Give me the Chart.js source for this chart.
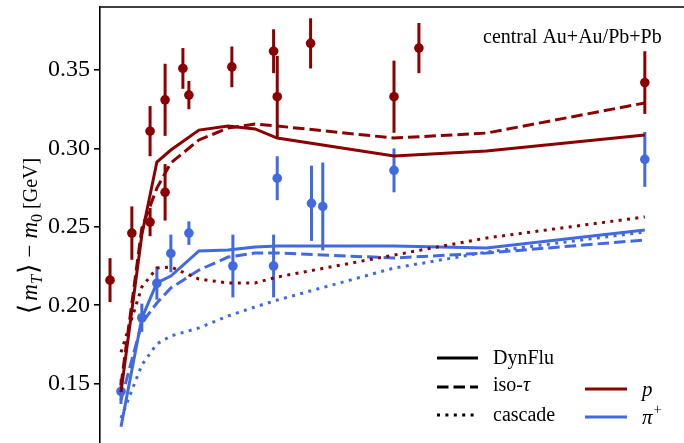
<!DOCTYPE html>
<html><head><meta charset="utf-8">
<script src="https://cdn.jsdelivr.net/npm/chart.js@4.4.0/dist/chart.umd.min.js"></script>
<style>html,body{margin:0;padding:0;background:#fff;overflow:hidden;width:684px;height:443px}canvas{display:block}</style>
</head><body><canvas id="c" width="760" height="480"></canvas>
<script>
// Collision energy sqrt(s_NN) [GeV] and measured <mT> - m0 [GeV] with errors
const energyP = [2.71, 3.23, 3.74, 3.74, 4.22, 4.22, 4.87, 5.11, 7.22, 10.1, 10.4, 13.6, 26.6, 32.5, 200];
const mtP     = [0.216, 0.246, 0.253, 0.311, 0.331, 0.272, 0.351, 0.334, 0.352, 0.362, 0.333, 0.367, 0.333, 0.364, 0.342];
const errP    = [0.014, 0.017, 0.009, 0.016, 0.023, 0.018, 0.013, 0.009, 0.013, 0.014, 0.026, 0.016, 0.023, 0.016, 0.020];

const energyPi = [2.96, 3.50, 3.95, 4.42, 5.11, 7.28, 10.1, 10.4, 13.7, 15.0, 26.6, 200];
const mtPi     = [0.145, 0.192, 0.214, 0.233, 0.246, 0.225, 0.225, 0.281, 0.265, 0.263, 0.286, 0.293];
const errPi    = [0.008, 0.009, 0.0105, 0.012, 0.0075, 0.020, 0.020, 0.014, 0.024, 0.028, 0.014, 0.0175];

// Model calculations
const energyModel = [2.96, 3.5, 3.95, 4.42, 5.54, 7.0, 8.7, 10.4, 26.6, 56, 200];
const pDynFlu   = [0.1446, 0.2448, 0.2913, 0.2990, 0.3117, 0.3143, 0.3124, 0.3066, 0.2951, 0.2983, 0.3085];
const pIsoTau   = [0.1491, 0.2492, 0.2747, 0.2907, 0.3054, 0.3130, 0.3156, 0.3143, 0.3066, 0.3098, 0.3290];
const pCascade  = [0.1700, 0.2116, 0.2237, 0.2244, 0.2167, 0.2142, 0.2142, 0.2180, 0.2320, 0.2429, 0.2563];
const piDynFlu  = [0.1225, 0.1918, 0.2142, 0.2186, 0.2346, 0.2352, 0.2371, 0.2378, 0.2378, 0.2365, 0.2480];
const piIsoTau  = [0.1395, 0.1886, 0.2014, 0.2110, 0.2224, 0.2307, 0.2333, 0.2333, 0.2301, 0.2333, 0.2416];
const piCascade = [0.1280, 0.1619, 0.1753, 0.1804, 0.1855, 0.1931, 0.1989, 0.2033, 0.2237, 0.2339, 0.2467];

const yTicks = [0.15, 0.20, 0.25, 0.30, 0.35];

const RED = '#8b0000';
const BLUE = '#4169e1';
const SERIF = '"Liberation Serif", "DejaVu Serif", serif';

const pts = (xs, ys) => xs.map((x, i) => ({x: x, y: ys[i]}));
const DASH = [11.5, 5];
const DOT = [3, 5.4];

function model(ys, color, dash) {
  return {data: pts(energyModel, ys), showLine: true, borderColor: color, borderWidth: 3,
          borderDash: dash, pointRadius: 0, fill: false, tension: 0, borderCapStyle: 'butt'};
}
function measured(xs, ys, errs, color) {
  return {data: pts(xs, ys), errors: errs, showLine: false, pointRadius: 4.8,
          pointBackgroundColor: color, pointBorderColor: color, borderWidth: 0};
}

const datasets = [
  model(pDynFlu, RED, []),
  model(pIsoTau, RED, DASH),
  model(pCascade, RED, DOT),
  model(piDynFlu, BLUE, []),
  model(piIsoTau, BLUE, DASH),
  model(piCascade, BLUE, DOT),
  measured(energyP, mtP, errP, RED),
  measured(energyPi, mtPi, errPi, BLUE)
];

// draws a run of text pieces (normal / italic / sub / sup), returns width
function runText(ctx, pieces, x, y, size, measureOnly) {
  let w = 0;
  for (const p of pieces) {
    const base = p.size || size;
    const s = p.sub || p.sup ? base * 0.7 : base;
    ctx.font = (p.it ? 'italic ' : '') + s + 'px ' + SERIF;
    const dy = p.sub ? base * 0.22 : (p.sup ? -base * 0.38 : 0);
    w += p.pre || 0;
    if (!measureOnly) ctx.fillText(p.t, x + w, y + dy);
    w += ctx.measureText(p.t).width + (p.gap || 0);
  }
  return w;
}

const decor = {
  id: 'decor',
  beforeDatasetsDraw(chart) {
    const ctx = chart.ctx, xs = chart.scales.x, ys = chart.scales.y;
    ctx.save();
    ctx.lineWidth = 3;
    chart.data.datasets.forEach(ds => {
      if (!ds.errors) return;
      ctx.strokeStyle = ds.pointBackgroundColor;
      ds.data.forEach((p, i) => {
        const px = xs.getPixelForValue(p.x);
        ctx.beginPath();
        ctx.moveTo(px, ys.getPixelForValue(p.y - ds.errors[i]));
        ctx.lineTo(px, ys.getPixelForValue(p.y + ds.errors[i]));
        ctx.stroke();
      });
    });
    ctx.restore();
  },
  afterDraw(chart) {
    const ctx = chart.ctx, a = chart.chartArea;
    ctx.save();
    // top frame
    ctx.strokeStyle = '#000';
    ctx.lineWidth = 1.6;
    ctx.beginPath();
    ctx.moveTo(a.left, a.top);
    ctx.lineTo(a.right, a.top);
    ctx.stroke();

    ctx.fillStyle = '#000';
    ctx.textBaseline = 'alphabetic';
    // annotation
    ctx.font = '20px ' + SERIF;
    ctx.textAlign = 'left';
    ctx.fillText('central Au+Au/Pb+Pb', 483, 43);

    // y axis title
    const title = [
      {t: '\u27e8', size: 27, gap: 3}, {t: 'm', it: true, size: 23}, {t: 'T', it: true, sub: true, size: 23, gap: 1},
      {t: '\u27e9', size: 27, gap: 4},
      {t: '\u2212', size: 23, gap: 6, pre: 2}, {t: 'm', it: true, size: 23}, {t: '0', sub: true, size: 23, gap: 5},
      {t: '[GeV]', size: 20}
    ];
    const tw = runText(ctx, title, 0, 0, 22, true);
    ctx.translate(37, 236);
    ctx.rotate(-Math.PI / 2);
    runText(ctx, title, -tw / 2, 0, 22, false);
    ctx.setTransform(1, 0, 0, 1, 0, 0);

    // legend: line styles
    const styles = [[[], 'DynFlu'], [DASH, 'iso-\u03c4'], [DOT, 'cascade']];
    const rows = [358, 387, 415];
    ctx.lineWidth = 3;
    styles.forEach((s, i) => {
      ctx.strokeStyle = '#000';
      ctx.setLineDash(s[0]);
      ctx.beginPath();
      ctx.moveTo(437, rows[i]);
      ctx.lineTo(478, rows[i]);
      ctx.stroke();
    });
    ctx.setLineDash([]);
    ctx.textBaseline = 'middle';
    ctx.font = '20px ' + SERIF;
    ctx.fillText('DynFlu', 493, rows[0] + 1);
    runText(ctx, [{t: 'iso-'}, {t: '\u03c4', it: true}], 493, rows[1] - 1, 20, false);
    ctx.font = '20px ' + SERIF;
    ctx.fillText('cascade', 493, rows[2] + 1);

    // legend: species colours
    const species = [[RED, [{t: 'p', it: true}], 389], [BLUE, [{t: '\u03c0', it: true, gap: 1}, {t: '+', sup: true}], 417]];
    species.forEach(s => {
      ctx.strokeStyle = s[0];
      ctx.beginPath();
      ctx.moveTo(585, s[2]);
      ctx.lineTo(627, s[2]);
      ctx.stroke();
      runText(ctx, s[1], 642, s[2] + 1, 21, false);
    });
    ctx.restore();
  }
};

new Chart(document.getElementById('c'), {
  type: 'scatter',
  data: {datasets: datasets},
  options: {
    responsive: false,
    animation: false,
    events: [],
    layout: {padding: {left: 0, top: 7, right: 29, bottom: 18}},
    plugins: {legend: {display: false}, tooltip: {enabled: false}},
    scales: {
      x: {type: 'logarithmic', min: 2.5, max: 400, display: false},
      y: {
        min: 0.10, max: 0.3902,
        afterBuildTicks: s => { s.ticks = yTicks.map(v => ({value: v})); },
        afterFit: s => { s.width = 100; s.paddingTop = 0; s.paddingBottom = 0; },
        grid: {display: true, drawOnChartArea: false, drawTicks: true, tickLength: 6, color: '#000', lineWidth: 1.6},
        border: {display: true, color: '#000', width: 1.6},
        ticks: {color: '#000', padding: 4, font: {family: SERIF, size: 24},
                callback: v => v.toFixed(2)}
      }
    }
  },
  plugins: [decor]
});
</script>
</body></html>
